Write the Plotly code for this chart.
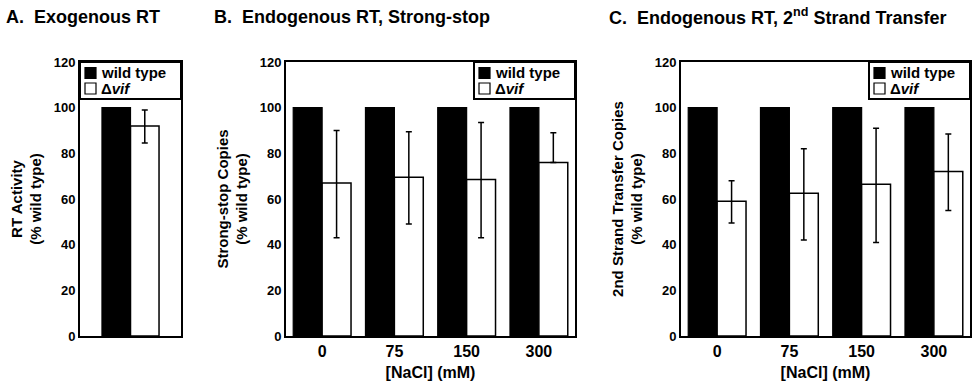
import plotly.graph_objects as go

# ---------------- data ----------------
series_names = ["wild type", "Δ<i>vif</i>"]

cat_A = ["RT"]
wt_A = [100]
vif_A = [92]
vif_A_err_plus = [7]
vif_A_err_minus = [7.5]

nacl = ["0", "75", "150", "300"]

wt_B = [100, 100, 100, 100]
vif_B = [67, 69.5, 68.5, 76]
vif_B_err_plus = [23, 20, 25, 13]
vif_B_err_minus = [24, 20.5, 25.5, 0]

wt_C = [100, 100, 100, 100]
vif_C = [59, 62.5, 66.5, 72]
vif_C_err_plus = [9, 19.5, 24.5, 16.5]
vif_C_err_minus = [9.5, 20.5, 25.5, 17]

panel_titles = ["A.\u00a0 Exogenous RT",
                "B.\u00a0 Endogenous RT, Strong-stop",
                "C.\u00a0 Endogenous RT, 2<sup>nd</sup> Strand Transfer"]
y_titles = ["RT Activity<br>(% wild type)",
            "Strong-stop Copies<br>(% wild type)",
            "2nd Strand Transfer Copies<br>(% wild type)"]
x_title = "[NaCl] (mM)"

# ---------------- figure ----------------
W, H = 974, 381
FONT = "Liberation Sans, Arial, Helvetica, sans-serif"

def px_x(p):
    return p / W

def px_y(p):
    return 1 - p / H

fig = go.Figure()

panels = [
    (cat_A, wt_A, vif_A, vif_A_err_plus, vif_A_err_minus, ""),
    (nacl, wt_B, vif_B, vif_B_err_plus, vif_B_err_minus, "2"),
    (nacl, wt_C, vif_C, vif_C_err_plus, vif_C_err_minus, "3"),
]

for cats, wt, vif, ep, em, sfx in panels:
    fig.add_trace(go.Bar(
        x=cats, y=wt, name=series_names[0],
        marker=dict(color="black", line=dict(color="black", width=1.2)),
        xaxis="x" + sfx, yaxis="y" + sfx, showlegend=False,
    ))
    fig.add_trace(go.Bar(
        x=cats, y=vif, name=series_names[1],
        marker=dict(color="white", line=dict(color="black", width=1.5)),
        error_y=dict(type="data", symmetric=False, array=ep, arrayminus=em,
                     color="black", thickness=1.5, width=3),
        xaxis="x" + sfx, yaxis="y" + sfx, showlegend=False,
    ))

# plot-area pixel boxes (left, right) ; top/bottom shared
boxes = [(80, 181), (286, 575), (681, 970)]
top_px, bot_px = 62, 336

axis_common = dict(showline=True, linecolor="black", linewidth=2, mirror=True,
                   showgrid=False, zeroline=False, automargin=False)

layout = dict(
    width=W, height=H,
    margin=dict(l=0, r=0, t=0, b=0),
    paper_bgcolor="white", plot_bgcolor="white",
    barmode="group", bargap=0.2, bargroupgap=0,
    showlegend=False,
    font=dict(family=FONT, color="black", size=13, weight="bold"),
)

shapes = []
annotations = []

for i, ((l, r), sfx) in enumerate(zip(boxes, ["", "2", "3"])):
    xa = dict(axis_common, domain=[px_x(l), px_x(r)], anchor="y" + sfx,
              ticks="", tickfont=dict(family=FONT, size=16, weight="bold"))
    ya = dict(axis_common, domain=[px_y(bot_px), px_y(top_px)], anchor="x" + sfx,
              range=[0, 120], tickvals=[0, 20, 40, 60, 80, 100, 120],
              ticks="", tickfont=dict(family=FONT, size=13, weight="bold"),
              title=dict(text=y_titles[i], font=dict(family=FONT, size=15, weight="bold"),
                         standoff=8))
    if i == 0:
        xa["showticklabels"] = False
        xa["range"] = [-0.708, 0.708]
    else:
        xa["range"] = [-0.5, 3.5]
        xa["title"] = dict(text=x_title, font=dict(family=FONT, size=16, weight="bold"),
                           standoff=13)
    layout["xaxis" + sfx] = xa
    layout["yaxis" + sfx] = ya

    # legend box drawn in the top-right corner of each panel
    bl = r - 101
    shapes.append(dict(type="rect", xref="paper", yref="paper", layer="above",
                       x0=px_x(bl), x1=px_x(r), y0=px_y(99), y1=px_y(top_px),
                       fillcolor="white", line=dict(color="black", width=2)))
    for row, (yc, fill) in enumerate([(73, "black"), (88.5, "white")]):
        shapes.append(dict(type="rect", xref="paper", yref="paper", layer="above",
                           x0=px_x(bl + 5), x1=px_x(bl + 16),
                           y0=px_y(yc + 5.5), y1=px_y(yc - 5.5),
                           fillcolor=fill, line=dict(color="black", width=1.2)))
        annotations.append(dict(text=series_names[row], x=px_x(bl + 19), y=px_y(yc),
                                xref="paper", yref="paper", xanchor="left",
                                yanchor="middle", showarrow=False,
                                font=dict(family=FONT, size=15, weight="bold",
                                          color="black")))

title_x = [4, 212, 607]
for t, x in zip(panel_titles, title_x):
    annotations.append(dict(text=t, x=px_x(x), y=px_y(17), xref="paper", yref="paper",
                            xanchor="left", yanchor="middle", showarrow=False,
                            font=dict(family=FONT, size=18, weight="bold", color="black")))

layout["shapes"] = shapes
layout["annotations"] = annotations
fig.update_layout(**layout)

fig.write_html("out.html",
               config={"displayModeBar": False},
               post_script="document.body.style.margin='0';"
                           "document.body.style.overflow='hidden';")
